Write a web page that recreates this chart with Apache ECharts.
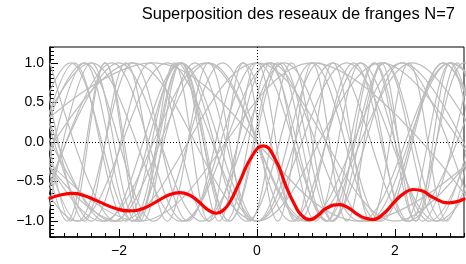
<!DOCTYPE html>
<html>
<head>
<meta charset="utf-8">
<script src="https://cdn.jsdelivr.net/npm/echarts@6/dist/echarts.min.js"></script>
<style>
html, body { margin: 0; padding: 0; background: #fff; }
#container { width: 466px; height: 264px; }
</style>
</head>
<body>
<div id="container"></div>
<script>
var dom = document.getElementById("container");
var myChart = echarts.init(dom);

// tick labels
var xTicks = [-2, 0, 2];
var yTicks = [-1, -0.5, 0, 0.5, 1];

// superposition (red curve)
var redX = [-3.0, -2.85, -2.67, -2.5, -2.3, -2.05, -1.85, -1.65, -1.45, -1.28, -1.12, -0.98, -0.85, -0.72, -0.59, -0.5, -0.4, -0.25, -0.08, 0.09, 0.26, 0.43, 0.55, 0.64, 0.76, 0.88, 1.0, 1.2, 1.32, 1.45, 1.56, 1.68, 1.84, 2.0, 2.13, 2.26, 2.4, 2.55, 2.77, 3.0];
var redY = [-0.71, -0.67, -0.65, -0.68, -0.75, -0.84, -0.87, -0.84, -0.75, -0.67, -0.64, -0.67, -0.75, -0.85, -0.90, -0.87, -0.77, -0.50, -0.19, -0.05, -0.21, -0.58, -0.80, -0.92, -0.98, -0.93, -0.84, -0.79, -0.83, -0.91, -0.96, -0.98, -0.90, -0.75, -0.65, -0.60, -0.62, -0.70, -0.77, -0.72];

// individual fringe patterns (grey): x of successive extrema, first one a peak (1) or a trough (-1)
var grayFirst = [1, -1, 1, -1, 1, -1, 1, 1, 1, -1, 1, -1, 1, -1, 1, -1, 1, -1, 1, -1, 1, -1];
var grayExtrema = [
    [-4, -2, 0, 2, 4],
    [-3.6, -1.8, 0, 1.8, 3.6],
    [-3.3, -2.2, -1.1, 0, 1.1, 2.2, 3.3],
    [-3.15, -2.1, -1.05, 0, 1.05, 2.1, 3.15],
    [-3.4, -2.6, -1.8, -1.0, -0.2, 0.6, 1.4, 2.2, 3.0, 3.8],
    [-3.2, -2.5, -1.8, -1.1, -0.4, 0.3, 1.0, 1.7, 2.4, 3.1],
    [-3.5, -2.1, -0.7, 0.7, 2.1, 3.5],
    [-3.9, -2.6, -1.3, 0, 1.3, 2.6, 3.9],
    [-3.1, -2.5, -1.9, -1.3, -0.7, -0.1, 0.5, 1.1, 1.7, 2.3, 2.9, 3.5],
    [-3.05, -2.4, -1.75, -1.1, -0.45, 0.2, 0.85, 1.5, 2.15, 2.8, 3.45],
    [-3.3, -2.75, -2.2, -1.65, -1.1, -0.55, 0, 0.55, 1.1, 1.65, 2.2, 2.75, 3.3],
    [-3.6, -2.7, -1.8, -0.9, 0, 0.9, 1.8, 2.7, 3.6],
    [-3.75, -2.25, -0.75, 0.75, 2.25, 3.75],
    [-3.2, -2.0, -0.8, 0.4, 1.6, 2.8, 4.0],
    [-3.0, -2.05, -1.1, -0.15, 0.8, 1.75, 2.7, 3.65],
    [-3.4, -2.65, -1.9, -1.15, -0.4, 0.35, 1.1, 1.85, 2.6, 3.35],
    [-4.2, -1.7, 0.8, 3.3],
    [-3.5, -2.5, -1.5, -0.5, 0.5, 1.5, 2.5, 3.5],
    [-3.25, -2.4, -1.55, -0.7, 0.15, 1.0, 1.85, 2.7, 3.55],
    [-3.7, -2.4, -1.1, 0.2, 1.5, 2.8, 4.1],
    [-3.2, -2.7, -2.2, -1.7, -1.2, -0.7, -0.2, 0.3, 0.8, 1.3, 1.8, 2.3, 2.8, 3.3],
    [-4.5, -1.5, 1.5, 4.5]
];

var font = "'Liberation Sans', Arial, sans-serif";

// minor tick positions
var xMinor = [];
for (var i = -15; i <= 15; i++) xMinor.push(i / 5);
var yMinor = [];
for (var j = -24; j <= 24; j++) yMinor.push(j / 20);

function fmt(v, d) {
    return v.toFixed(d).replace('-', '\u2212');
}

var series = [];
grayExtrema.forEach(function (xs, k) {
    series.push({
        type: 'line',
        smooth: 0.36,
        showSymbol: false,
        silent: true,
        z: 1,
        lineStyle: { color: '#bdbdbd', width: 1.2 },
        data: xs.map(function (x, i) {
            return [x, i % 2 === 0 ? grayFirst[k] : -grayFirst[k]];
        })
    });
});

series.push({
    type: 'line',
    data: [],
    silent: true,
    z: 2,
    markLine: {
        silent: true,
        symbol: ['none', 'none'],
        label: { show: false },
        lineStyle: { color: '#000', type: [1, 2], width: 1 },
        data: [{ xAxis: 0 }, { yAxis: 0 }]
    }
});

series.push({
    name: 'superposition',
    type: 'line',
    smooth: 0.5,
    showSymbol: false,
    silent: true,
    z: 3,
    lineStyle: { color: '#ff0000', width: 3.2, cap: 'round', join: 'round' },
    data: redX.map(function (x, i) { return [x, redY[i]]; })
});

var option = {
    animation: false,
    title: {
        text: 'Superposition des reseaux de franges N=7',
        right: 6,
        top: 1,
        textStyle: { fontFamily: font, fontSize: 16.5, fontWeight: 'normal', color: '#000' }
    },
    grid: {
        left: 50, right: 2, top: 47, bottom: 27,
        show: true, borderColor: '#000', borderWidth: 1
    },
    xAxis: [{
        type: 'value', min: -3, max: 3, position: 'bottom',
        axisLine: { onZero: false, lineStyle: { color: '#000', width: 1.5 } },
        axisTick: { inside: true, length: 8, customValues: xTicks, lineStyle: { color: '#000' } },
        axisLabel: {
            customValues: xTicks, margin: 7, color: '#000', fontFamily: font, fontSize: 14,
            formatter: function (v) { return fmt(v, 0); }
        },
        splitLine: { show: false }
    }, {
        type: 'value', min: -3, max: 3, position: 'bottom',
        axisLine: { show: false, onZero: false },
        axisTick: { inside: true, length: 4, customValues: xMinor, lineStyle: { color: '#000' } },
        axisLabel: { show: false },
        splitLine: { show: false }
    }],
    yAxis: [{
        type: 'value', min: -1.2, max: 1.2, position: 'left',
        axisLine: { onZero: false, lineStyle: { color: '#000', width: 1.5 } },
        axisTick: { inside: true, length: 8, customValues: yTicks, lineStyle: { color: '#000' } },
        axisLabel: {
            customValues: yTicks, margin: 6, color: '#000', fontFamily: font, fontSize: 14,
            formatter: function (v) { return fmt(v, 1); }
        },
        splitLine: { show: false }
    }, {
        type: 'value', min: -1.2, max: 1.2, position: 'left',
        axisLine: { show: false, onZero: false },
        axisTick: { inside: true, length: 4, customValues: yMinor, lineStyle: { color: '#000' } },
        axisLabel: { show: false },
        splitLine: { show: false }
    }],
    series: series
};

if (option && typeof option === "object") {
    myChart.setOption(option, true);
}
</script>
</body>
</html>
